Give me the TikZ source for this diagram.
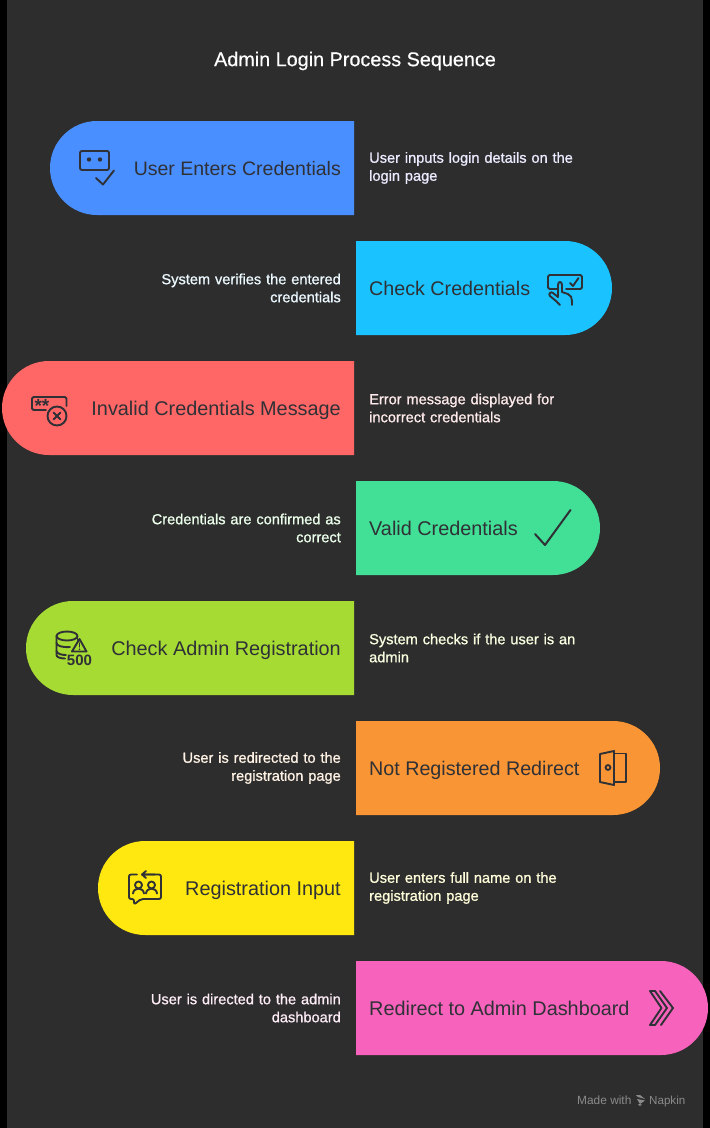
\documentclass[tikz,border=0pt]{standalone}
\usepackage{fontspec}
\setmainfont{Liberation Sans}
\newfontfamily\descfont[FakeBold=0.9]{Liberation Sans}
\newfontfamily\titlefont[FakeBold=0.5]{Liberation Sans}
\definecolor{bgc}{HTML}{2D2D2D}
\definecolor{inkc}{HTML}{2F3136}
\definecolor{cblue}{HTML}{4A8FFF}
\definecolor{ccyan}{HTML}{1AC3FF}
\definecolor{cred}{HTML}{FF6666}
\definecolor{cgreen}{HTML}{42DF96}
\definecolor{clime}{HTML}{A6DB34}
\definecolor{corange}{HTML}{F99535}
\definecolor{cyellow}{HTML}{FFE80F}
\definecolor{cpink}{HTML}{F763BC}
\tikzset{
  lab/.style={text=inkc,font=\fontsize{19.85}{23}\selectfont,inner sep=0pt},
  labl/.style={lab,anchor=base east},
  labr/.style={lab,anchor=base west},
  desc/.style={font=\descfont\fontsize{14.6}{18}\selectfont,inner sep=0pt,text width=215pt},
  descl/.style={desc,anchor=east,align=right},
  descr/.style={desc,anchor=west,align=left},
  ico/.style={draw=inkc,line width=2pt,line cap=round,line join=round},
  icot/.style={draw=inkc,line width=1.9pt,line cap=round,line join=round},
}
\newcommand{\lpill}[4]{\fill[#4] (354,#3) -- (#1+47,#3) arc[start angle=-90,end angle=-270,radius=47] -- (354,#3+94) -- cycle;}
\newcommand{\rpill}[4]{\fill[#4] (356,#3) -- (#2-47,#3) arc[start angle=-90,end angle=90,radius=47] -- (356,#3+94) -- cycle;}
\begin{document}
\begin{tikzpicture}[x=1pt,y=-1pt]
\useasboundingbox (0,0) rectangle (710,1128);
\fill[black] (0,0) rectangle (710,1128);
\fill[bgc] (7,0) rectangle (703,1128);
\node[inner sep=0pt,text=white,font=\titlefont\fontsize{19.8}{24}\selectfont] (title) at (355,61) {Admin Login Process Sequence};
% pills
\lpill{50}{354}{121}{cblue}
\rpill{356}{612}{241}{ccyan}
\lpill{2}{354}{361}{cred}
\rpill{356}{600}{481}{cgreen}
\lpill{26}{354}{601}{clime}
\rpill{356}{660}{721}{corange}
\lpill{98}{354}{841}{cyellow}
\rpill{356}{708}{961}{cpink}
% labels
\node[labl,font=\fontsize{19.5}{23}\selectfont] (l1) at (341,175) {User Enters Credentials};
\node[labr,font=\fontsize{19.7}{23}\selectfont] (l2) at (369,295) {Check Credentials};
\node[labl] (l3) at (341,415) {Invalid Credentials Message};
\node[labr] (l4) at (369,535) {Valid Credentials};
\node[labl] (l5) at (341,655) {Check Admin Registration};
\node[labr,font=\fontsize{19.7}{23}\selectfont] (l6) at (369,775) {Not Registered Redirect};
\node[labl] (l7) at (341,895) {Registration Input};
\node[labr] (l8) at (369,1015) {Redirect to Admin Dashboard};
% descriptions
\node[descr,text=blue!8!white] (d1) at (369,168) {User inputs login details on the\\login page};
\node[descl,text=cyan!8!white] (d2) at (341,288) {System verifies the entered\\credentials};
\node[descr,text=red!8!white] (d3) at (369,408) {Error message displayed for\\incorrect credentials};
\node[descl,text=green!8!white] (d4) at (341,528) {Credentials are confirmed as\\correct};
\node[descr,text=lime!12!white] (d5) at (369,648) {System checks if the user is an\\admin};
\node[descl,text=orange!10!white] (d6) at (341,768) {User is redirected to the\\registration page};
\node[descr,text=yellow!15!white] (d7) at (369,888) {User enters full name on the\\registration page};
\node[descl,text=magenta!8!white] (d8) at (341,1008) {User is directed to the admin\\dashboard};
% icon 1
\draw[icot,rounded corners=2pt] (80,151) rectangle (109,170);
\fill[inkc] (89,159.5) circle (2.2) (100,159.5) circle (2.2);
\draw[icot] (96,178) -- (103,184.5) -- (114,170.5);
% icon 2
\draw[icot,rounded corners=1.5pt] (557,289) -- (548,289) -- (548,275) -- (582,275) -- (582,289) -- (566,289);
\draw[icot] (570,283) -- (573,286) -- (578.5,278);
\draw[icot] (556,301) -- (550,296) .. controls (548,294) and (551,291) .. (553,293) -- (558,297) -- (558,285) .. controls (558,281) and (562,281) .. (562,285) -- (562,292) -- (568,294) .. controls (571,295) and (572,297) .. (572,305);
\draw[icot] (556,301) -- (560,305);
% icon 3
\draw[icot,rounded corners=1.5pt] (46,410) -- (32,410) -- (32,397) -- (66.5,397) -- (66.5,406);
\node[inner sep=0pt,text=inkc,font=\bfseries\fontsize{19}{19}\selectfont] (stars) at (42,406) {**};
\draw[icot] (57,416) circle (9.5);
\draw[icot] (53.5,412.5) -- (60.5,419.5) (60.5,412.5) -- (53.5,419.5);
% icon 4
\draw[ico] (535,534) -- (545,545) -- (570.5,510);
% icon 5
\draw[icot] (67,636) ellipse (10.5 and 4.5);
\draw[icot] (56.5,636) -- (56.5,655) .. controls (56.5,657) and (60,658.5) .. (65,658.5);
\draw[icot] (56.5,643) .. controls (57,646) and (62,647.5) .. (70,647);
\draw[icot] (56.5,651) .. controls (57,654) and (62,655) .. (66,655);
\draw[icot] (77.5,636) -- (77.5,640);
\draw[icot] (72,651.5) -- (79.5,639) -- (86.5,651.5) -- cycle;
\draw[icot,line width=1.4pt] (79.5,643) -- (79.5,647);
\fill[inkc] (79.5,649.3) circle (0.9);
\node[inner sep=0pt,text=inkc,font=\bfseries\fontsize{15}{15}\selectfont] (five) at (79.5,660) {500};
% icon 6
\draw[icot] (600,754) -- (614,751) -- (614,785) -- (600,782) -- cycle;
\draw[icot] (614,753.5) -- (626,753.5) -- (626,782) -- (614,782);
\draw[icot] (608,767.5) circle (2.4);
% icon 7
\draw[icot,rounded corners=2pt] (137,874.5) -- (129,874.5) -- (129,899) -- (134,899) -- (134,904.5) -- (141,899) -- (161,899) -- (161,874.5) -- (142,874.5);
\draw[icot] (142,874.5) -- (146,871) (142,874.5) -- (146,878) (142,874.5) -- (155,874.5);
\draw[icot] (138.5,885) circle (3.5) (151.5,885) circle (3.5);
\draw[icot] (133,893.5) .. controls (133.5,887) and (143.5,887) .. (144,893.5);
\draw[icot] (146,893.5) .. controls (146.5,887) and (156.5,887) .. (157,893.5);
% icon 8
\draw[icot] (650,991) -- (655,991) -- (667,1008) -- (655,1025) -- (650,1025) -- (661.5,1008) -- cycle;
\draw[icot] (660,991) -- (673,1008) -- (661,1025);
% footer
\node[inner sep=0pt,anchor=base west,text=white!45!bgc,font=\fontsize{11.9}{12}\selectfont] (f1) at (577,1104) {Made with};
\node[inner sep=0pt,anchor=base west,text=white!45!bgc,font=\fontsize{11.6}{12}\selectfont] (f2) at (649,1104) {Napkin};
\fill[white!45!bgc] (636,1095) -- (640,1095) -- (645,1099) -- (638,1097) -- cycle
  (637,1099) -- (645,1100.5) -- (640,1104) -- cycle
  (638,1104) -- (640,1106) -- (642,1104.5) -- cycle;
\end{tikzpicture}
\end{document}
